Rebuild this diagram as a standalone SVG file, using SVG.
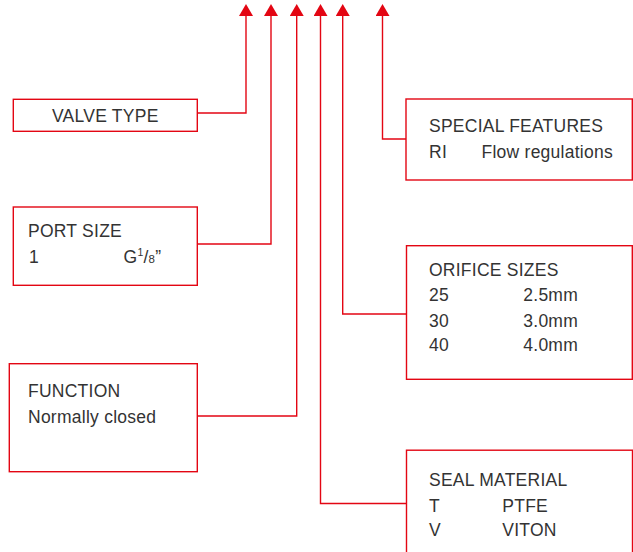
<svg xmlns="http://www.w3.org/2000/svg" width="633" height="552" viewBox="0 0 633 552">
  <style>
    .box { fill: #ffffff; stroke: #e30613; stroke-width: 1.4; }
    .conn { fill: none; stroke: #e30613; stroke-width: 1.4; }
    text { font-family: "Liberation Sans", Arial, sans-serif; font-size: 17.5px; letter-spacing: 0.25px; fill: #333333; }
  </style>
  <defs>
    <marker id="arrow" viewBox="0 0 12 14" refX="0" refY="7" markerWidth="12" markerHeight="14" markerUnits="userSpaceOnUse" orient="auto-start-reverse">
      <path d="M0,0 L12,7 L0,14 Z" fill="#e30613"/>
    </marker>
  </defs>
  <rect width="633" height="552" fill="#ffffff"/>

  <g id="connectors">
    <polyline class="conn" marker-start="url(#arrow)" points="246,16 246,113 197,113"/>
    <polyline class="conn" marker-start="url(#arrow)" points="271,16 271,244 197,244"/>
    <polyline class="conn" marker-start="url(#arrow)" points="296.7,16 296.7,416 197,416"/>
    <polyline class="conn" marker-start="url(#arrow)" points="320.5,16 320.5,503.5 406.5,503.5"/>
    <polyline class="conn" marker-start="url(#arrow)" points="342.7,16 342.7,314 406.5,314"/>
    <polyline class="conn" marker-start="url(#arrow)" points="382.5,16 382.5,139 406,139"/>
  </g>

  <g id="valve-type">
    <rect class="box" x="13.3" y="99.3" width="184" height="32"/>
    <text x="105.3" y="122" text-anchor="middle">VALVE TYPE</text>
  </g>

  <g id="port-size">
    <rect class="box" x="13.3" y="207" width="184" height="78.3"/>
    <text x="28" y="237">PORT SIZE</text>
    <text x="29" y="262.5">1</text>
    <text x="123.5" y="262.5">G<tspan font-size="10.5" dy="-6.5">1</tspan><tspan dy="6.5">/</tspan><tspan font-size="11.5">8</tspan>”</text>
  </g>

  <g id="function">
    <rect class="box" x="9.3" y="363.7" width="188" height="108"/>
    <text x="28" y="397.3">FUNCTION</text>
    <text x="28" y="422.7">Normally closed</text>
  </g>

  <g id="special-features">
    <rect class="box" x="406" y="99" width="226.3" height="81"/>
    <text x="429" y="132.3">SPECIAL FEATURES</text>
    <text x="429" y="157.7">RI</text>
    <text x="481.5" y="157.7">Flow regulations</text>
  </g>

  <g id="orifice-sizes">
    <rect class="box" x="406.5" y="245.7" width="225.8" height="133.6"/>
    <text x="429" y="275.7">ORIFICE SIZES</text>
    <text x="429" y="301">25</text>
    <text x="523.3" y="301">2.5mm</text>
    <text x="429" y="326.5">30</text>
    <text x="523.3" y="326.5">3.0mm</text>
    <text x="429" y="351">40</text>
    <text x="523.3" y="351">4.0mm</text>
  </g>

  <g id="seal-material">
    <rect class="box" x="406.5" y="450.2" width="226" height="120"/>
    <text x="429" y="485.7">SEAL MATERIAL</text>
    <text x="429" y="511.5">T</text>
    <text x="502.3" y="511.5">PTFE</text>
    <text x="429" y="536">V</text>
    <text x="502.3" y="536">VITON</text>
  </g>
</svg>
